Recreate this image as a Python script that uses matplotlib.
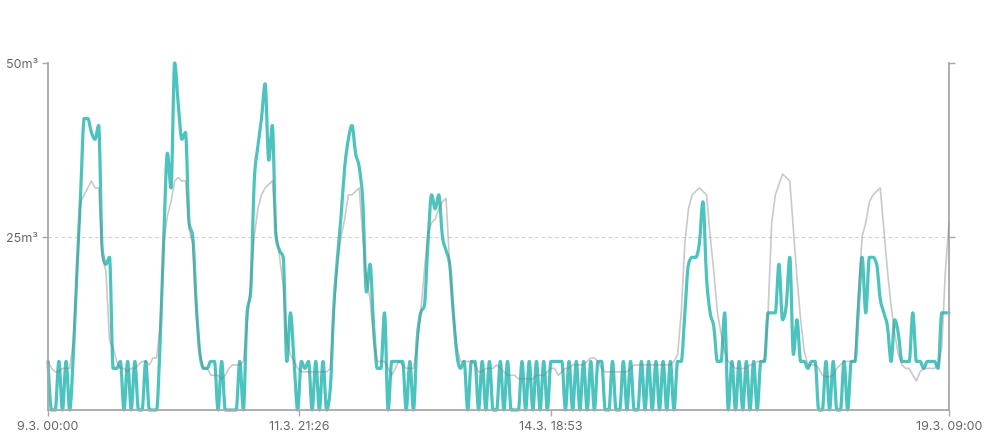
import numpy as np
import matplotlib
matplotlib.use("Agg")
import matplotlib.pyplot as plt
from matplotlib.path import Path
from matplotlib.patches import PathPatch

# ---------------- data (hourly, from 9.3. 00:00) ----------------
teal = [
    7, 0, 0, 7, 0, 7, 0, 8, 20, 31,            # 0-9
    42, 42, 40, 39, 41, 23, 21, 22, 6, 6,      # 10-19
    7, 0, 7, 0, 7, 0, 0, 7, 0, 0,              # 20-29
    0, 10, 25, 37, 32, 50, 44, 39, 40, 27,     # 30-39
    25, 15, 8, 6, 6, 7, 7, 0, 7, 0,            # 40-49
    0, 0, 0, 7, 0, 14, 17, 33, 38, 42,         # 50-59
    47, 36, 41, 25, 23, 22, 7, 14, 7, 0,       # 60-69
    7, 6, 7, 0, 7, 0, 7, 0, 3, 15,             # 70-79
    22, 28, 35, 39, 41, 37, 35, 30, 17, 21,    # 80-89
    12, 6, 6, 14, 0, 7, 7, 7, 7, 0,            # 90-99
    7, 0, 10, 14, 15, 24, 31, 29, 31, 25,      # 100-109
    23, 21, 14, 8, 6, 7, 0, 7, 7, 0,           # 110-119
    7, 0, 7, 0, 0, 7, 0, 7, 0, 0,              # 120-129
    0, 7, 0, 7, 0, 7, 0, 7, 0, 7,              # 130-139
    7, 7, 7, 0, 7, 0, 7, 0, 7, 0,              # 140-149
    7, 0, 7, 7, 0, 0, 7, 0, 0, 7,              # 150-159
    0, 7, 0, 0, 7, 0, 7, 0, 7, 0,              # 160-169
    7, 0, 7, 0, 7, 7, 14, 21, 22, 22,          # 170-179
    24, 30, 19, 14, 12, 7, 7, 14, 0, 7,        # 180-189
    0, 7, 0, 7, 0, 7, 0, 7, 7, 14,             # 190-199
    14, 14, 21, 13, 15, 22, 8, 13, 7, 7,       # 200-209
    6, 7, 7, 0, 0, 7, 0, 7, 0, 0,              # 210-219
    7, 0, 7, 7, 15, 22, 14, 22, 22, 21,        # 220-229
    16, 14, 12, 7, 13, 11, 7, 7, 7, 14,        # 230-239
    7, 7, 6, 7, 7, 7, 6, 14, 14, 14,           # 240-249
]
gray = [
    7, 6, 5.5, 5.5, 6, 6, 6, 10, 20, 30,
    31, 32, 33, 32, 32, 22, 20, 10, 9, 7,
    6, 6, 5.5, 6, 6, 6.5, 7, 7, 6.5, 7.5,
    7.5, 12, 24, 28, 30, 33, 33.5, 33, 33, 26,
    24, 14, 8, 6, 6, 5, 5, 5, 4.5, 5,
    6, 6.5, 6.5, 6.5, 7, 12, 18, 25, 29, 31,
    32, 32.5, 33, 26, 22, 18, 10, 8, 7, 6,
    5.5, 5.5, 5.5, 5.5, 5.5, 5.5, 5.5, 5.5, 6, 14,
    21, 25, 27.5, 31, 31, 31.5, 32, 25, 19, 16,
    10, 7, 7, 7, 6, 5, 6, 7, 6.5, 6,
    6, 6, 9, 14, 20, 25.5, 27, 27.5, 29, 30,
    30.5, 21, 14, 9, 7, 7, 7, 7, 6.5, 5.5,
    5.5, 6, 6, 6, 6.5, 6, 5.5, 5, 5, 5,
    4.5, 4.5, 4.5, 4.5, 4.5, 5, 5, 5, 5.5, 6,
    6, 5, 5.5, 6, 6, 6.5, 6.5, 6.5, 6.5, 7,
    7.5, 7.5, 7, 6, 5.5, 5.5, 5.5, 5.5, 5.5, 5.5,
    5.5, 6, 6.5, 6.5, 6.5, 6.5, 6.5, 6.5, 6.5, 6.5,
    6.5, 6.5, 6.5, 7, 8, 14, 24, 29, 31, 31.5,
    32, 31.5, 31, 25, 20, 14, 11, 8.5, 7, 6.5,
    6, 6, 6, 6, 6.5, 6.5, 7, 7, 7, 14,
    27, 31, 32.5, 34, 33.5, 33, 26, 19, 13, 8.5,
    6.5, 6.5, 6.5, 6, 5, 4.8, 4.8, 5, 6, 6.5,
    7, 7, 7, 7, 17, 25, 27, 30, 31, 31.5,
    32, 26, 20, 15, 11, 8, 6.5, 6, 6, 5,
    4.2, 5.5, 6, 6, 6, 6, 6.5, 9, 20, 27,
]
hours = np.arange(len(teal))

ytick_vals = [25, 50]
ytick_labels = ["25m³", "50m³"]
xtick_hours = [0, 69 + 26 / 60, 138 + 53 / 60, 249]
xtick_labels = ["9.3. 00:00", "11.3. 21:26", "14.3. 18:53", "19.3. 09:00"]

TEAL = "#4cc3bf"
AXIS = "#a8a8a8"
TEXT = "#666666"


def monotone_path(x, y):
    """Bezier path equivalent to d3.curveMonotoneX through the data points."""
    x = np.asarray(x, float)
    y = np.asarray(y, float)
    n = len(x)
    h = np.diff(x)
    s = np.diff(y) / h
    t = np.zeros(n)
    for i in range(1, n - 1):
        s0, s1 = s[i - 1], s[i]
        p = (s0 * h[i] + s1 * h[i - 1]) / (h[i - 1] + h[i])
        t[i] = (np.sign(s0) + np.sign(s1)) * min(abs(s0), abs(s1), 0.5 * abs(p))
    t[0] = (3 * s[0] - t[1]) / 2
    t[-1] = (3 * s[-1] - t[-2]) / 2
    verts = [(x[0], y[0])]
    codes = [Path.MOVETO]
    for i in range(n - 1):
        d = h[i] / 3
        verts += [(x[i] + d, y[i] + d * t[i]),
                  (x[i + 1] - d, y[i + 1] - d * t[i + 1]),
                  (x[i + 1], y[i + 1])]
        codes += [Path.CURVE4] * 3
    return Path(verts, codes)


plt.rcParams["font.family"] = ["Inter", "DejaVu Sans"]
fig = plt.figure(figsize=(9.96, 4.39), dpi=100)
ax = fig.add_axes([48 / 996, 28 / 439, 901 / 996, 347 / 439])

ax.set_xlim(hours[0], hours[-1])
ax.set_ylim(0, 50)

ax.axhline(25, color="#cfcfcf", lw=0.8, ls=(0, (3, 3)), zorder=0)

patch = PathPatch(monotone_path(hours, teal), facecolor="none", edgecolor=TEAL,
                  lw=2.3, capstyle="round", joinstyle="round", zorder=2,
                  clip_on=False)
ax.add_patch(patch)
ax.plot(hours, gray, color="#7a7a7a", alpha=0.4, lw=1.2, zorder=3,
        solid_joinstyle="round")

ax.spines["top"].set_visible(False)
for side in ("left", "right", "bottom"):
    ax.spines[side].set_color(AXIS)
    ax.spines[side].set_linewidth(1.3)

ax.set_yticks(ytick_vals)
ax.set_yticklabels(ytick_labels)
ax.set_xticks(xtick_hours)
ax.set_xticklabels(xtick_labels)
ax.tick_params(axis="y", left=True, right=True, labelright=False, length=4,
               width=1, color=AXIS, labelcolor=TEXT, labelsize=9, pad=3)
ax.tick_params(axis="x", length=4, width=1, color=AXIS, labelcolor=TEXT,
               labelsize=9, pad=3)

fig.savefig("out.png", dpi=100)
